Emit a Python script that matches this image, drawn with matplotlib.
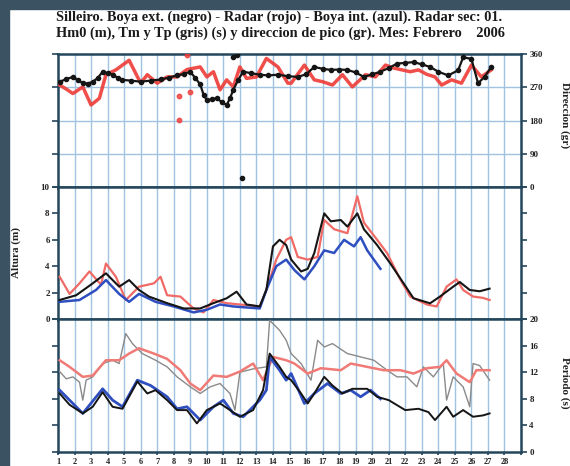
import matplotlib
matplotlib.use("Agg")
import matplotlib.pyplot as plt
from matplotlib.patches import Rectangle

plt.rcParams['font.family'] = ['Liberation Serif', 'DejaVu Serif']
plt.rcParams['font.weight'] = 'bold'

title1 = "Silleiro. Boya ext. (negro) - Radar (rojo) - Boya int. (azul). Radar sec: 01."
title2 = "Hm0 (m), Tm y Tp (gris) (s) y direccion de pico (gr). Mes: Febrero    2006"
day_ticks = list(range(1, 29))

# ---- Panel 1: peak direction (deg)
dir_black_day = [1.1, 1.5, 1.9, 2.2, 2.5, 2.8, 3.1, 3.4, 3.7, 4.0, 4.3, 4.6, 4.9, 5.4, 6.0, 6.6, 7.2, 7.7,
                 8.2, 8.6, 9.0, 9.3, 9.6, 9.8, 10.0, 10.3, 10.6, 10.9, 11.2, 11.4, 11.6, 11.9, 12.2, 12.7,
                 13.2, 13.7, 14.3, 14.9, 15.5, 16.0, 16.5, 17.0, 17.5, 18.0, 18.5, 19.0, 19.5, 20.0, 20.5,
                 21.0, 21.5, 22.0, 22.5, 23.0, 23.5, 24.0, 24.6, 25.2, 25.5, 26.0, 26.4, 26.8, 27.2]
dir_black = [285, 292, 298, 290, 281, 280, 285, 295, 312, 308, 304, 296, 290, 288, 285, 288, 291, 296,
             302, 306, 312, 295, 278, 250, 235, 238, 240, 230, 222, 240, 263, 290, 312, 308,
             304, 302, 304, 300, 298, 305, 325, 320, 317, 318, 317, 310, 298, 305, 312,
             322, 334, 336, 338, 332, 325, 312, 302, 316, 351, 347, 281, 298, 325]
dir_black_out_day = [11.6, 11.8, 12.1]
dir_black_out = [352, 356, 24]

dir_red_day = [1.1, 1.5, 1.9, 2.2, 2.5, 3.0, 3.5, 3.9, 4.5, 5.3, 6.0, 6.4, 7.0, 7.6, 8.2, 8.8, 9.6,
               10.0, 10.4, 10.8, 11.2, 11.6, 12.0, 12.4, 13.0, 13.6, 14.3, 14.9, 15.1, 15.9, 16.5,
               17.0, 17.6, 18.2, 18.8, 19.6, 20.2, 20.8, 21.3, 21.8, 22.3, 22.8, 23.3, 23.8, 24.2,
               24.8, 25.4, 26.0, 26.6, 27.2]
dir_red = [276, 265, 253, 262, 271, 222, 240, 304, 317, 343, 281, 304, 281, 298, 298, 318, 325,
           298, 312, 263, 290, 271, 325, 294, 298, 348, 325, 281, 281, 330, 290,
           285, 276, 304, 271, 304, 298, 330, 322, 317, 312, 317, 305, 298, 276,
           290, 281, 330, 298, 317]
dir_red_out_day = [8.3, 8.3, 9.0, 8.8]
dir_red_out = [245, 181, 258, 357]

# ---- Panel 2: significant height Hm0 (m)
hs_black_day = [1.1, 2.1, 3.1, 3.9, 4.7, 5.3, 5.9, 6.5, 7.6, 8.6, 9.6, 10.4, 11.2, 11.8, 12.4, 13.2,
                13.6, 14.0, 14.4, 14.8, 15.1, 15.7, 16.1, 16.5, 17.1, 17.5, 18.1, 18.5, 19.1, 19.5,
                20.3, 21.1, 21.9, 22.5, 23.5, 24.1, 24.9, 25.3, 25.9, 26.5, 27.1]
hs_black = [1.44, 1.8, 2.7, 3.46, 2.45, 2.95, 2.2, 1.7, 1.2, 0.8, 0.8, 1.2, 1.57, 2.07, 1.1, 0.95,
            2.2, 5.5, 6.0, 5.6, 4.5, 3.6, 3.8, 5.0, 8.0, 7.4, 7.5, 7.0, 8.0, 6.8,
            5.6, 4.2, 2.7, 1.57, 1.19, 1.7, 2.45, 2.8, 2.2, 2.1, 2.3]
hs_red_day = [1.1, 1.7, 2.3, 2.9, 3.6, 3.9, 4.5, 5.1, 5.9, 6.8, 7.2, 7.6, 8.4, 9.2, 9.8, 10.4, 11.2,
              12.0, 13.2, 13.6, 14.2, 14.8, 15.1, 15.5, 16.1, 16.7, 17.1, 17.7, 18.5, 19.1, 19.5,
              20.3, 20.9, 21.7, 22.3, 23.3, 23.9, 24.5, 25.1, 25.5, 26.1, 26.7, 27.1]
hs_red = [3.2, 1.9, 2.7, 3.6, 2.6, 4.2, 3.2, 1.44, 2.45, 2.7, 3.2, 1.8, 1.7, 0.8, 0.5, 1.44, 1.2,
          1.1, 0.95, 2.2, 4.5, 6.0, 6.2, 4.7, 4.5, 4.7, 7.5, 6.8, 6.5, 9.3, 7.3,
          6.0, 5.0, 3.0, 1.7, 1.1, 0.95, 2.45, 3.0, 2.2, 1.7, 1.6, 1.44]
hs_blue_day = [1.1, 2.3, 3.3, 3.9, 4.7, 5.3, 5.9, 6.9, 8.0, 9.2, 10.0, 10.8, 11.6, 13.2, 13.6, 14.2,
               14.8, 15.3, 15.9, 16.5, 17.1, 17.7, 18.3, 18.9, 19.3, 19.7, 20.5]
hs_blue = [1.3, 1.44, 2.2, 2.95, 1.9, 1.3, 1.9, 1.3, 0.95, 0.5, 0.7, 1.1, 0.95, 0.8, 2.2, 4.0,
           4.5, 3.7, 3.0, 4.0, 5.2, 5.0, 6.0, 5.5, 6.2, 5.2, 3.8]

# ---- Panel 3: periods (s)
tp_grey_day = [1.1, 1.5, 1.9, 2.3, 2.5, 2.7, 3.1, 3.7, 4.3, 4.7, 5.1, 5.5, 6.1, 6.9, 7.6, 8.2, 9.0,
               9.6, 10.2, 10.8, 11.4, 11.7, 12.0, 12.8, 13.6, 13.8, 14.4, 14.8, 15.1, 15.7, 16.3,
               16.7, 17.1, 17.6, 18.5, 19.3, 20.1, 20.9, 21.5, 22.1, 22.7, 23.1, 23.7, 24.3, 24.5,
               24.9, 25.5, 25.9, 26.1, 26.5, 27.1]
tp_grey = [12.1, 11.0, 11.3, 10.5, 7.8, 10.8, 11.3, 13.3, 13.8, 13.3, 17.8, 16.3, 14.8, 13.8, 12.8, 11.3, 9.8,
           8.8, 9.8, 10.3, 8.8, 6.3, 12.0, 12.5, 12.8, 19.8, 18.3, 16.8, 14.8, 13.3, 10.8,
           16.8, 15.8, 16.3, 14.8, 14.3, 13.8, 12.3, 11.3, 11.3, 9.8, 12.8, 11.3, 13.3, 7.8,
           11.3, 9.8, 6.8, 13.3, 13.0, 10.8]
tp_red_day = [1.1, 1.7, 2.5, 3.1, 3.9, 4.7, 5.3, 5.9, 6.8, 7.6, 8.4, 9.0, 9.6, 10.4, 11.2, 12.0,
              12.8, 13.4, 14.0, 14.8, 15.3, 16.1, 16.9, 18.1, 18.7, 19.7, 20.7, 21.7, 22.5, 23.3,
              24.1, 24.5, 25.1, 25.9, 26.3, 27.1]
tp_red = [13.8, 12.8, 11.3, 11.5, 13.8, 13.8, 14.8, 15.6, 14.8, 14.0, 12.3, 10.3, 9.3, 11.5, 11.3, 12.1,
          13.3, 10.8, 14.3, 13.8, 13.3, 11.8, 12.6, 12.3, 13.3, 12.8, 12.3, 12.3, 11.8, 12.6,
          12.8, 13.8, 11.8, 10.5, 12.3, 12.3]
tm_black_day = [1.1, 1.7, 2.5, 3.1, 3.7, 4.3, 4.9, 5.8, 6.4, 6.9, 7.6, 8.2, 8.8, 9.4, 10.0, 10.8,
                11.4, 12.0, 12.8, 13.4, 13.8, 14.4, 14.8, 15.1, 15.7, 16.1, 16.5, 17.1, 17.6, 18.2,
                18.8, 19.7, 20.3, 21.0, 22.0, 22.8, 23.4, 23.8, 24.5, 24.9, 25.5, 26.1, 26.7, 27.1]
tm_black = [8.8, 7.1, 5.8, 6.8, 9.0, 6.8, 6.5, 10.6, 8.8, 9.3, 7.8, 6.3, 6.3, 4.3, 6.3, 7.3,
            6.3, 5.3, 6.3, 9.3, 14.8, 12.8, 11.3, 10.8, 8.8, 7.3, 8.8, 11.3, 10.0, 8.8,
            9.5, 9.5, 8.3, 7.8, 6.3, 6.5, 6.0, 4.8, 6.8, 5.3, 6.3, 5.3, 5.5, 5.8]
tm_blue_day = [1.1, 1.7, 2.5, 3.7, 4.3, 4.9, 5.8, 6.6, 7.6, 8.2, 8.8, 9.6, 10.4, 11.0, 11.6, 12.2,
               13.2, 13.6, 13.8, 14.4, 14.8, 15.1, 15.9, 16.5, 17.3, 18.1, 18.7, 19.3, 19.9, 20.5]
tm_blue = [9.3, 7.8, 5.8, 9.5, 7.8, 6.8, 10.8, 10.0, 8.3, 6.5, 6.8, 4.8, 6.8, 7.8, 5.8, 5.3,
           7.8, 9.3, 14.3, 12.3, 10.8, 11.8, 7.3, 8.8, 10.3, 8.8, 9.3, 8.3, 9.3, 8.0]

W, H = 570, 466
fig = plt.figure(figsize=(W / 100, H / 100), dpi=100)
fig.patch.set_facecolor('white')
bg = '#3b5262'
fig.add_artist(Rectangle((0, 0), 9 / W, 1, transform=fig.transFigure, color=bg, zorder=0))
fig.add_artist(Rectangle((0, 1 - 9 / H), 1, 9 / H, transform=fig.transFigure, color=bg, zorder=0))

frame = '#24465c'
grid = '#9fc3e0'
left, right = 58 / W, 521 / W
def pos(top, bot):
    return [left, 1 - bot / H, right - left, (bot - top) / H]

ax1 = fig.add_axes(pos(54, 187))
ax2 = fig.add_axes(pos(187, 319))
ax3 = fig.add_axes(pos(319, 452))

for ax in (ax1, ax2, ax3):
    ax.set_xlim(1, 29)
    ax.set_xticks(range(1, 30))
    for xv in range(2, 29):
        ax.axvline(xv, color=grid, lw=1.0, zorder=0)
    for s in ax.spines.values():
        s.set_color(frame)
        s.set_linewidth(1.8)
    ax.tick_params(axis='both', colors=frame, width=1.2, length=4, labelsize=6.5,
                   labelcolor='#222222', pad=2)
    ax.tick_params(axis='x', length=2)
    ax.set_facecolor('white')

# Panel 1
ax1.set_ylim(0, 360)
for yv in (90, 180, 270):
    ax1.axhline(yv, color=grid, lw=1.0, zorder=0)
ax1.plot(dir_red_day, dir_red, color='#ee3b36', lw=2.5, alpha=0.9, zorder=3)
ax1.plot(dir_red_out_day, dir_red_out, 'o', color='#ee3b36', ms=3.2, alpha=0.8, zorder=3)
ax1.plot(dir_black_day, dir_black, '-', color='#151515', lw=1.6, marker='o', ms=3.0, zorder=4)
ax1.plot(dir_black_out_day, dir_black_out, 'o', color='#151515', ms=3.0, zorder=4)
ax1.set_yticks([0, 90, 180, 270, 360])
ax1.yaxis.set_ticks_position('both')
ax1.tick_params(axis='y', labelleft=False, labelright=True)
ax1.set_yticklabels(['0', '90', '180', '270', '360'])
ax1.tick_params(axis='x', labelbottom=False)

# Panel 2
ax2.set_ylim(0, 10)
ax2.plot(hs_red_day, hs_red, color='#f06a66', lw=1.6, zorder=3)
ax2.plot(hs_blue_day, hs_blue, color='#2f4fc0', lw=1.8, zorder=4)
ax2.plot(hs_black_day, hs_black, color='#151515', lw=1.5, zorder=5)
ax2.set_yticks([0, 2, 4, 6, 8, 10])
ax2.yaxis.set_ticks_position('both')
ax2.tick_params(axis='y', labelleft=True, labelright=False)
ax2.tick_params(axis='x', labelbottom=False)
ax2.set_ylabel('Altura (m)', fontsize=8, fontweight='bold', color='#222222', labelpad=14)

# Panel 3
ax3.set_ylim(0, 20)
ax3.plot(tp_grey_day, tp_grey, color='#8a8a8a', lw=1.0, zorder=3)
ax3.plot(tp_red_day, tp_red, color='#f07a76', lw=1.8, zorder=3)
ax3.plot(tm_blue_day, tm_blue, color='#2f4fc0', lw=2.0, zorder=4)
ax3.plot(tm_black_day, tm_black, color='#151515', lw=1.4, zorder=5)
ax3.set_yticks([0, 4, 8, 12, 16, 20])
ax3.yaxis.set_ticks_position('both')
ax3.tick_params(axis='y', labelleft=False, labelright=True)
ax3.set_xticklabels([str(d) for d in day_ticks] + [''], fontsize=6)

fig.text(565 / W, 1 - 115 / H, 'Direccion (gr)', rotation=270, ha='center', va='center',
         fontsize=8, fontweight='bold', color='#222222')
fig.text(565 / W, 1 - 383 / H, 'Periodo (s)', rotation=270, ha='center', va='center',
         fontsize=8, fontweight='bold', color='#222222')

fig.text(279 / W, 1 - 17 / H, title1, ha='center', va='center', fontsize=10.4,
         fontweight='bold', color='#1a1a1a')
fig.text(280 / W, 1 - 33 / H, title2, ha='center', va='center', fontsize=10.4,
         fontweight='bold', color='#1a1a1a')

fig.savefig('out.png', dpi=100, facecolor=fig.get_facecolor())
